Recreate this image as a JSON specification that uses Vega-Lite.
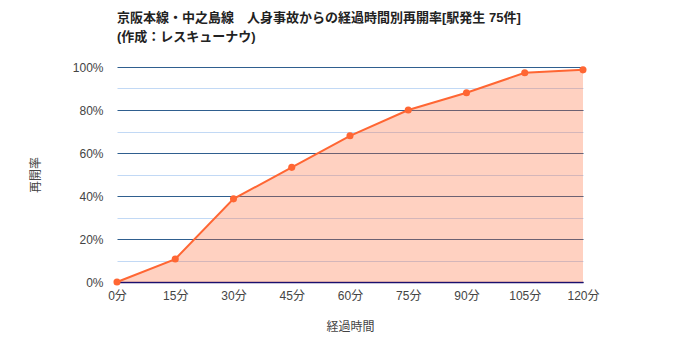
{
  "$schema": "https://vega.github.io/schema/vega-lite/v6.json",
  "autosize": {"type": "none"},
  "width": 466,
  "height": 215,
  "padding": {"left": 117, "top": 67, "right": 117, "bottom": 68},
  "background": "white",
  "title": {
    "text": ["京阪本線・中之島線　人身事故からの経過時間別再開率[駅発生 75件]", "(作成：レスキューナウ)"],
    "anchor": "start",
    "frame": "group",
    "font": "Liberation Sans, Noto Sans CJK JP",
    "fontSize": 13,
    "fontWeight": "bold",
    "color": "#222222",
    "lineHeight": 19,
    "offset": 17
  },
  "config": {
    "view": {"stroke": null},
    "axis": {"labelFont": "Liberation Sans, Noto Sans CJK JP", "titleFont": "Liberation Sans, Noto Sans CJK JP", "labelFontSize": 12, "labelColor": "#444444", "titleFontSize": 12, "titleColor": "#444444", "titleFontWeight": "normal"}
  },
  "data": {"values": [
    {"t": 0, "rate": 0.0},
    {"t": 15, "rate": 0.1067},
    {"t": 30, "rate": 0.3867},
    {"t": 45, "rate": 0.5333},
    {"t": 60, "rate": 0.68},
    {"t": 75, "rate": 0.80},
    {"t": 90, "rate": 0.88},
    {"t": 105, "rate": 0.9733},
    {"t": 120, "rate": 0.9867}
  ]},
  "encoding": {
    "x": {
      "field": "t", "type": "quantitative",
      "scale": {"domain": [0, 120], "nice": false, "zero": false},
      "axis": {
        "values": [0, 15, 30, 45, 60, 75, 90, 105, 120],
        "labelExpr": "datum.value + '分'",
        "grid": false, "ticks": false,
        "domainColor": "#1a0f6e", "domainWidth": 1.5,
        "labelPadding": 8,
        "title": "経過時間", "titlePadding": 20,
        "labelFlush": false
      }
    },
    "y": {
      "field": "rate", "type": "quantitative",
      "scale": {"domain": [0, 1], "nice": false},
      "axis": {
        "values": [0, 0.1, 0.2, 0.3, 0.4, 0.5, 0.6, 0.7, 0.8, 0.9, 1.0],
        "labelExpr": "round(datum.value*10) % 2 === 0 ? format(datum.value, '.0%') : ''",
        "gridColor": {"condition": {"test": "round(datum.value*10) % 2 === 0", "value": "#2f5f8f"}, "value": "#c2d9f5"},
        "gridWidth": 1,
        "domain": false, "ticks": false,
        "labelPadding": 14,
        "title": "再開率", "titlePadding": 30
      }
    }
  },
  "layer": [
    {"mark": {"type": "area", "color": "#FF6633", "opacity": 0.3}},
    {"mark": {"type": "line", "color": "#FF6633", "strokeWidth": 2}},
    {"mark": {"type": "point", "filled": true, "color": "#FF6633", "opacity": 1, "size": 50}}
  ]
}
